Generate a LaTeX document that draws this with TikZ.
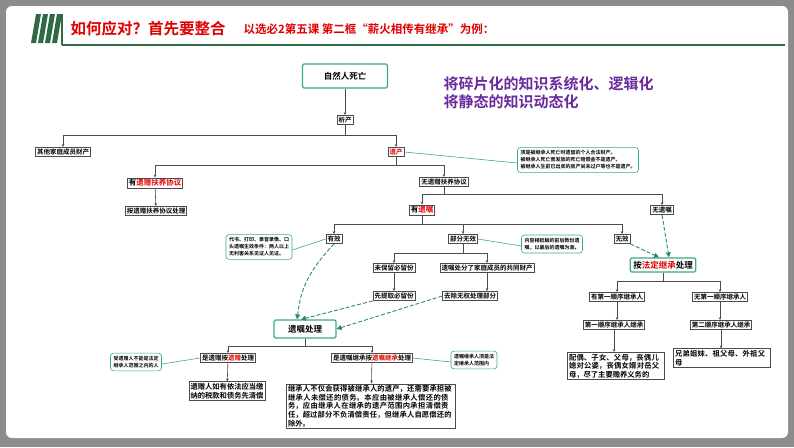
\documentclass[tikz,border=0pt]{standalone}
\usepackage{fontspec}
\setmainfont{Noto Sans CJK SC}
\newfontfamily\cjkb{Noto Sans CJK SC Bold}
\XeTeXlinebreaklocale "zh"
\XeTeXlinebreakskip=0pt plus 1pt
\usetikzlibrary{arrows.meta}
\definecolor{tgreen}{HTML}{2E6B45}
\definecolor{cgreen}{HTML}{3AAE7A}
\definecolor{tred}{HTML}{E00000}
\definecolor{purp}{HTML}{6A2A9A}
\tikzset{
 bx/.style={draw=black!70,line width=0.6pt,fill=white,inner sep=1.5pt,font=\fontsize{6.5}{8}\selectfont\cjkb},
 bigbx/.style={bx,align=left,font=\fontsize{7.3}{8.6}\selectfont\cjkb},
 gbx/.style={draw=cgreen,line width=1.2pt,rounded corners=1.5pt,fill=white,inner sep=3pt,font=\fontsize{8.5}{10}\selectfont\cjkb},
 call/.style={draw=cgreen,line width=0.6pt,rounded corners=3pt,fill=white,inner sep=3pt,align=left,font=\fontsize{5}{7}\selectfont\cjkb},
 ln/.style={draw=black!70,line width=0.6pt},
 ar/.style={ln,-{Stealth[length=3pt,width=2.5pt]}},
 cp/.style={draw=cgreen,line width=0.6pt},
 da/.style={draw=cgreen!80!black,line width=0.9pt,dash pattern=on 4pt off 2pt,-{Triangle[length=5pt,width=5pt]}},
}
\newcommand{\rd}[1]{\textcolor{tred}{#1}}
\begin{document}
\begin{tikzpicture}[x=1pt,y=-1pt]
\useasboundingbox (0,0) rectangle (794,447);
\fill[black!45] (0,0) rectangle (794,447);
\fill[white,rounded corners=6pt] (6,6) rectangle (788,438);
% title
\foreach \i in {0,1,2,3} \fill[tgreen] (36+\i*7,14) -- (41+\i*7,14) -- (36+\i*7,43) -- (31+\i*7,43) -- cycle;
\draw[tgreen,line width=1.5pt] (62,45) -- (785,45);
\draw[tgreen,line width=1.5pt] (62,14) -- (62,45);
\node[anchor=west,text=tred,font=\fontsize{15.5}{18}\selectfont\cjkb] (t1) at (67,29) {如何应对？首先要整合};
\node[anchor=west,text=tred,font=\fontsize{11.5}{13}\selectfont\cjkb] (t2) at (240,29) {以选必2第五课 第二框“薪火相传有继承”为例：};
\node[anchor=west,text=purp,align=left,font=\fontsize{15}{18}\selectfont\cjkb] (pt) at (440,93) {将碎片化的知识系统化、逻辑化\\将静态的知识动态化};
% nodes
\node[gbx,minimum width=85pt,minimum height=24pt] (a) at (345,76) {自然人死亡};
\node[bx] (b) at (345,120) {析产};
\node[bx] (c) at (63,152) {其他家庭成员财产};
\node[bx] (d) at (396,152) {\rd{遗产}};
\node[call] (cd) at (578,160) {须是被继承人死亡时遗留的个人合法财产。\\被继承人死亡而发放的死亡赔偿金不是遗产。\\被继承人生前已出卖的房产尚未过户等也不是遗产。};
\node[bx,font=\fontsize{7.5}{9}\selectfont\cjkb] (e) at (155,183) {有\rd{遗赠扶养协议}};
\node[bx] (f) at (156,211) {按遗赠扶养协议处理};
\node[bx] (g) at (444,182) {无遗赠扶养协议};
\node[bx,font=\fontsize{7.5}{9}\selectfont\cjkb] (h) at (422,210) {有\rd{遗嘱}};
\node[bx] (i) at (662,210) {无遗嘱};
\node[bx] (j) at (334,239) {有效};
\node[call] (cj) at (259,247) {代书、打印、录音录像、口\\头遗嘱生效条件：两人以上\\无利害关系见证人见证。};
\node[bx] (k) at (463,239) {部分无效};
\node[call] (ck) at (552,244) {内容相抵触的前后数份遗\\嘱，以最后的遗嘱为准。};
\node[bx] (l) at (622,239) {无效};
\node[gbx] (m) at (663,265) {按\rd{法定继承}处理};
\node[bx] (n) at (394,268) {未保留必留份};
\node[bx] (o) at (487,268) {遗嘱处分了家庭成员的共同财产};
\node[bx] (p) at (394,296) {先提取必留份};
\node[bx] (q) at (470,296) {去除无权处理部分};
\node[gbx,minimum width=62pt,minimum height=18pt] (r) at (305,329) {遗嘱处理};
\node[bx] (s) at (228,358) {是遗赠按\rd{遗赠}处理};
\node[call] (cs) at (136,362) {受遗赠人不能是法定\\继承人范围之内的人};
\node[bx] (t) at (372,358) {是遗嘱继承按\rd{遗嘱继承}处理};
\node[call] (ct) at (474,360) {遗嘱继承人须是法\\定继承人范围内};
\node[bigbx] (u) at (227,391) {遗赠人如有依法应当缴\\纳的税款和债务先清偿};
\node[bigbx,text width=166pt] (v) at (371,406) {继承人不仅会获得被继承人的遗产，还需要承担被继承人未偿还的债务。本应由被继承人偿还的债务，应由继承人在继承的遗产范围内承担清偿责任，超过部分不负清偿责任，但继承人自愿偿还的除外。};
\node[bx] (w) at (617,297) {有第一顺序继承人};
\node[bx] (x) at (720,297) {无第一顺序继承人};
\node[bx] (y) at (614,325) {第一顺序继承人继承};
\node[bx] (z) at (721,325) {第二顺序继承人继承};
\node[bigbx,text width=94pt] (y2) at (616,366) {配偶、子女、父母，丧偶儿媳对公婆，丧偶女婿对岳父母，尽了主要赡养义务的};
\node[bigbx,text width=94pt] (z2) at (722,358) {兄弟姐妹、祖父母、外祖父母};
% connectors
\draw[ar] (a) -- (b);
\draw[ar] (b.south) -- ++(0,10) -| (c.north);
\draw[ar] (b.south) -- ++(0,10) -| (d.north);
\draw[ar] (d.south) -- ++(0,8) -| (e.north);
\draw[ar] (d.south) -- ++(0,8) -| (g.north);
\draw[ar] (e) -- (f);
\draw[ar] (g.south) -- ++(0,7) -| (h.north);
\draw[ar] (g.south) -- ++(0,7) -| (i.north);
\draw[ar] (h.south) -- ++(0,9) -| (j.north);
\draw[ar] (h.south) -- ++(0,9) -| (k.north);
\draw[ar] (h.south) -- ++(0,9) -| (l.north);
\draw[ar] (k.south) -- ++(0,9) -| (n.north);
\draw[ar] (k.south) -- ++(0,9) -| (o.north);
\draw[ar] (n) -- (p);
\draw[ar] (o.south) -- (o.south |- q.north);
\draw[ar] (r.south) -- ++(0,8) -| (s.north);
\draw[ar] (r.south) -- ++(0,8) -| (t.north);
\draw[ar] (s) -- (u);
\draw[ar] (t) -- (v);
\draw[ar] (m.south) -- ++(0,9) -| (w.north);
\draw[ar] (m.south) -- ++(0,9) -| (x.north);
\draw[ar] (w.south) -- (w.south |- y.north);
\draw[ar] (x.south) -- (x.south |- z.north);
\draw[ar] (y.south) -- (y.south |- y2.north);
\draw[ar] (z.south) -- (z.south |- z2.north);
% callout pointers
\draw[cp] (d.east) -- ([yshift=-3pt]cd.west);
\draw[cp] (j.west) -- ([yshift=-3pt]cj.east);
\draw[cp] (k.east) -- ([yshift=-2pt]ck.west);
\draw[cp] (s.west) -- ([yshift=-2pt]cs.east);
\draw[cp] (t.east) -- ([yshift=-2pt]ct.west);
% dashed
\draw[da] (j.south) .. controls (300,280) and (300,300) .. ([xshift=-8pt]r.north);
\draw[da] (p.south west) -- ([xshift=-4pt]r.north);
\draw[da] (q.west) -- (r.east);
\draw[da] (l.south east) -- ([xshift=-4pt]m.north);
\draw[da] (i.south) -- ([xshift=6pt]m.north);
\end{tikzpicture}
\end{document}
